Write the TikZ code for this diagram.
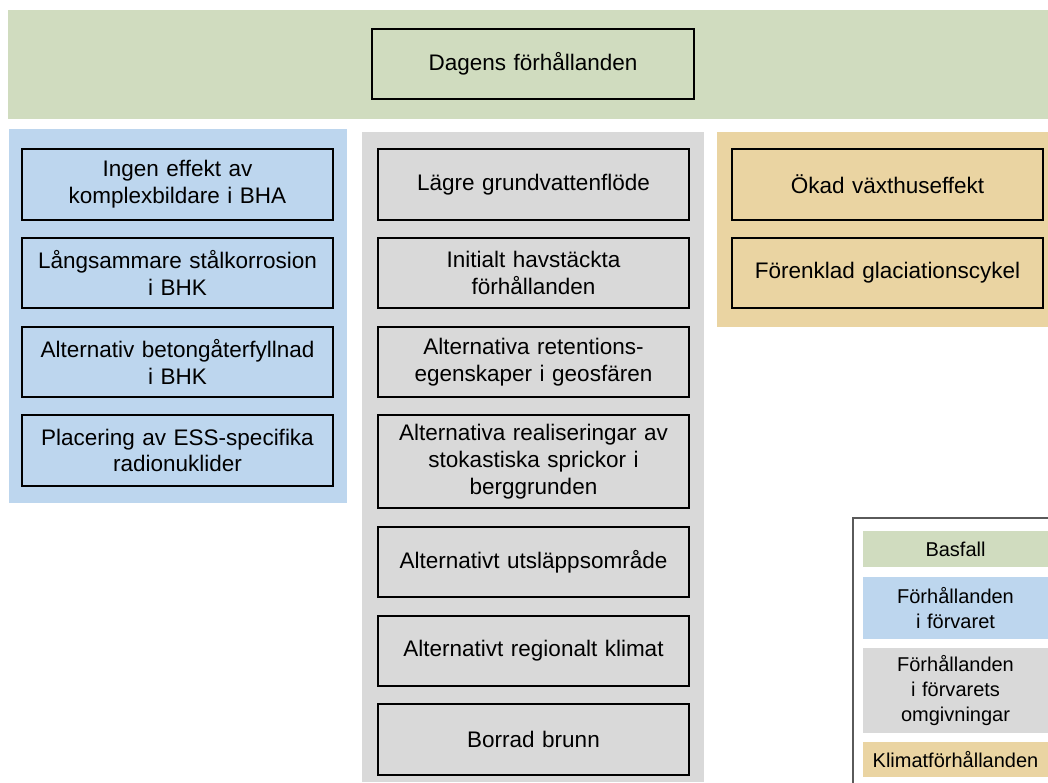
\documentclass[tikz,border=0pt]{standalone}
\usepackage{fontspec}
\setmainfont{Liberation Sans}
\definecolor{cgreen}{RGB}{208,220,191}
\definecolor{cblue}{RGB}{189,214,238}
\definecolor{cgray}{RGB}{217,217,217}
\definecolor{ctan}{RGB}{234,212,162}
\definecolor{cframe}{RGB}{90,90,90}
\begin{document}
\begin{tikzpicture}[x=1pt,y=-1pt,
  panel/.style={rectangle, draw=none, inner sep=0pt, minimum width=#1},
  itembox/.style={rectangle, draw=black, line width=1.1pt, inner sep=0pt,
    minimum width=311pt, minimum height=71pt, text width=300pt, align=center,
    font=\fontsize{22.5}{26.7}\selectfont},
  legitem/.style={rectangle, draw=none, inner sep=0pt, minimum width=185pt,
    text width=180pt, align=center, font=\fontsize{20}{25}\selectfont}
]
\useasboundingbox (0,0) rectangle (1048,782);
% panels
\node[panel=1040pt, fill=cgreen, minimum height=109pt] (basband) at (528,64.5) {};
\node[panel=338pt, fill=cblue, minimum height=374pt] (inside) at (178,316) {};
\node[panel=342pt, fill=cgray, minimum height=650pt] (surround) at (533,457) {};
\node[panel=331pt, fill=ctan, minimum height=195pt] (climate) at (882.5,229.5) {};
% base case
\node[itembox, minimum width=322pt, minimum height=70pt, fill=cgreen] (dagens) at (533,64) {Dagens förhållanden};
% repository
\node[itembox, fill=cblue] (b1) at (177.5,184.5) {Ingen effekt av\\komplexbildare i BHA};
\node[itembox, fill=cblue, minimum height=70pt] (b2) at (177.5,273) {Långsammare stålkorrosion\\i BHK};
\node[itembox, fill=cblue, minimum height=70pt] (b3) at (177.5,362) {Alternativ betongåterfyllnad\\i BHK};
\node[itembox, fill=cblue] (b4) at (177.5,450.5) {Placering av ESS-specifika\\radionuklider};
% surroundings
\node[itembox, fill=cgray] (g1) at (533.5,184.5) {Lägre grundvattenflöde};
\node[itembox, fill=cgray, minimum height=70pt] (g2) at (533.5,273) {Initialt havstäckta\\förhållanden};
\node[itembox, fill=cgray, minimum height=70pt] (g3) at (533.5,362) {Alternativa retentions-\\egenskaper i geosfären};
\node[itembox, fill=cgray, minimum height=93pt] (g4) at (533.5,461.5) {Alternativa realiseringar av\\stokastiska sprickor i\\berggrunden};
\node[itembox, fill=cgray, minimum height=70pt] (g5) at (533.5,562) {Alternativt utsläppsområde};
\node[itembox, fill=cgray, minimum height=70pt] (g6) at (533.5,651) {Alternativt regionalt klimat};
\node[itembox, fill=cgray] (g7) at (533.5,739.5) {Borrad brunn};
% climate
\node[itembox, fill=ctan] (k1) at (887.5,184.5) {Ökad växthuseffekt};
\node[itembox, fill=ctan, minimum height=70pt] (k2) at (887.5,273) {Förenklad glaciationscykel};
% legend
\draw[cframe, line width=1.3pt] (853,783) -- (853,518) -- (1049,518);
\node[legitem, fill=cgreen, minimum height=36pt] (l1) at (955.5,549) {Basfall};
\node[legitem, fill=cblue, minimum height=62pt] (l2) at (955.5,608) {Förhållanden\\i förvaret};
\node[legitem, fill=cgray, minimum height=85pt] (l3) at (955.5,690.5) {Förhållanden\\i förvarets\\omgivningar};
\node[legitem, fill=ctan, minimum height=35pt] (l4) at (955.5,759.5) {Klimatförhållanden};
\end{tikzpicture}
\end{document}
